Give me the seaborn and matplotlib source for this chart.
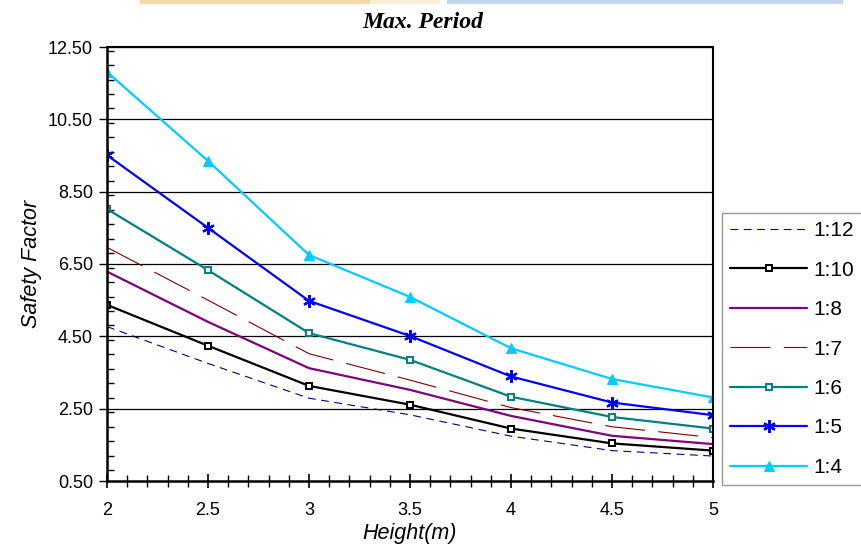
import matplotlib
matplotlib.use("Agg")
import matplotlib.pyplot as plt
import seaborn as sns
import pandas as pd
from matplotlib.ticker import MultipleLocator, FormatStrFormatter
from matplotlib.patches import Rectangle

# ---- data ----
heights = [2, 2.5, 3, 3.5, 4, 4.5, 5]
sf_1_12 = [4.77, 3.75, 2.79, 2.33, 1.74, 1.34, 1.19]
sf_1_10 = [5.37, 4.24, 3.13, 2.61, 1.95, 1.54, 1.34]
sf_1_8 = [6.29, 4.90, 3.62, 3.02, 2.30, 1.75, 1.52]
sf_1_7 = [6.96, 5.50, 4.02, 3.29, 2.53, 2.00, 1.70]
sf_1_6 = [8.02, 6.33, 4.59, 3.85, 2.83, 2.27, 1.95]
sf_1_5 = [9.51, 7.50, 5.48, 4.51, 3.39, 2.67, 2.32]
sf_1_4 = [11.81, 9.35, 6.75, 5.59, 4.17, 3.32, 2.81]
series_names = ["1:12", "1:10", "1:8", "1:7", "1:6", "1:5", "1:4"]
series_values = [sf_1_12, sf_1_10, sf_1_8, sf_1_7, sf_1_6, sf_1_5, sf_1_4]
y_ticks = [0.5, 2.5, 4.5, 6.5, 8.5, 10.5, 12.5]
x_ticks = [2, 2.5, 3, 3.5, 4, 4.5, 5]

styles = {
    "1:12": dict(color="#000080", lw=0.8, linestyle=(0, (7, 5)), marker=None),
    "1:10": dict(color="#000000", lw=1.6, linestyle="-", marker="s", ms=5,
                 mfc="white", mec="#000000", mew=1.4),
    "1:8": dict(color="#800080", lw=1.6, linestyle="-", marker=None),
    "1:7": dict(color="#800000", lw=0.8, linestyle=(0, (36, 12)), marker=None),
    "1:6": dict(color="#008080", lw=1.6, linestyle="-", marker="s", ms=5,
                mfc="white", mec="#008080", mew=1.4),
    "1:5": dict(color="#0000FF", lw=1.6, linestyle="-", marker=(6, 2, 0), ms=9,
                mec="#0000FF", mew=1.6),
    "1:4": dict(color="#00CCFF", lw=1.6, linestyle="-", marker="^", ms=7,
                mfc="#00CCFF", mec="#00CCFF"),
}

sns.set_theme(style="white")
plt.rcParams["font.family"] = ["Liberation Sans", "DejaVu Sans"]
plt.rcParams["text.color"] = "#000000"
plt.rcParams["axes.labelcolor"] = "#000000"

fig = plt.figure(figsize=(8.61, 5.47), dpi=100)

# decorative band at the very top of the page
fig.patches.append(Rectangle((140 / 861, 1 - 4 / 547), (370 - 140) / 861, 4 / 547,
                             transform=fig.transFigure, facecolor="#F9D9A2",
                             edgecolor="none", zorder=0))
fig.patches.append(Rectangle((370 / 861, 1 - 4 / 547), (440 - 370) / 861, 4 / 547,
                             transform=fig.transFigure, facecolor="#FBF0D6",
                             edgecolor="none", zorder=0))
fig.patches.append(Rectangle((447 / 861, 1 - 4 / 547), (843 - 447) / 861, 4 / 547,
                             transform=fig.transFigure, facecolor="#C4D5F0",
                             edgecolor="none", zorder=0))

ax = fig.add_axes([107 / 861, 1 - 481 / 547, (713 - 107) / 861, (481 - 47) / 547])

for name, vals in zip(series_names, series_values):
    df = pd.DataFrame({"Height": heights, "SF": vals})
    st = dict(styles[name])
    kw = dict(color=st.pop("color"), linewidth=st.pop("lw"), linestyle=st.pop("linestyle"))
    mk = st.pop("marker")
    if mk is not None:
        kw["marker"] = mk
        kw["markersize"] = st.pop("ms")
        if "mfc" in st:
            kw["markerfacecolor"] = st.pop("mfc")
        kw["markeredgecolor"] = st.pop("mec")
        if "mew" in st:
            kw["markeredgewidth"] = st.pop("mew")
    sns.lineplot(data=df, x="Height", y="SF", ax=ax, label=name, legend=False, **kw)

ax.set_xlim(2, 5)
ax.set_ylim(0.5, 12.5)
ax.set_xticks(x_ticks)
ax.set_xticklabels([f"{v:g}" for v in x_ticks])
ax.set_yticks(y_ticks)
ax.yaxis.set_major_formatter(FormatStrFormatter("%.2f"))
ax.xaxis.set_minor_locator(MultipleLocator(0.1))
ax.yaxis.set_minor_locator(MultipleLocator(0.4))

ax.grid(False)
for y in y_ticks[1:]:
    ax.axhline(y, color="#000000", lw=0.9, zorder=0.5)

for side in ["left", "bottom", "right", "top"]:
    ax.spines[side].set_visible(True)
    ax.spines[side].set_color("#000000")
ax.spines["left"].set_linewidth(1.8)
ax.spines["bottom"].set_linewidth(1.8)
ax.spines["right"].set_linewidth(1.5)
ax.spines["top"].set_linewidth(1.5)

ax.tick_params(axis="x", which="major", direction="inout", length=10, width=1.2,
               colors="#000000", labelsize=13, pad=10, bottom=True)
ax.tick_params(axis="x", which="minor", direction="inout", length=8, width=1.0,
               colors="#000000", bottom=True)
ax.tick_params(axis="y", which="major", direction="out", length=6, width=1.0,
               colors="#000000", labelsize=13, pad=4, left=True)
ax.tick_params(axis="y", which="minor", direction="in", length=5, width=1.0,
               colors="#000000", left=True)

ax.set_xlabel("Height(m)", fontsize=15.5, style="italic", labelpad=3, color="#000000")
ax.set_ylabel("Safety Factor", fontsize=15.5, style="italic", labelpad=4, color="#000000")
fig.text(0.4905, 1 - 23 / 547, "Max. Period", ha="center", va="center", color="#000000",
         fontsize=17, fontweight="bold", style="italic", family="Liberation Serif")

handles, labels = ax.get_legend_handles_labels()
leg = ax.legend(handles, labels, loc="upper left",
                bbox_to_anchor=(722 / 861, 1 - 213 / 547), bbox_transform=fig.transFigure,
                borderaxespad=0, fontsize=15, numpoints=1, handlelength=3.7,
                handletextpad=0.3, labelspacing=0.98, borderpad=0.4,
                frameon=True, fancybox=False, labelcolor="#000000")
leg.get_frame().set_edgecolor("#808080")
leg.get_frame().set_linewidth(1.0)

fig.savefig("out.png", dpi=100, facecolor="white")
